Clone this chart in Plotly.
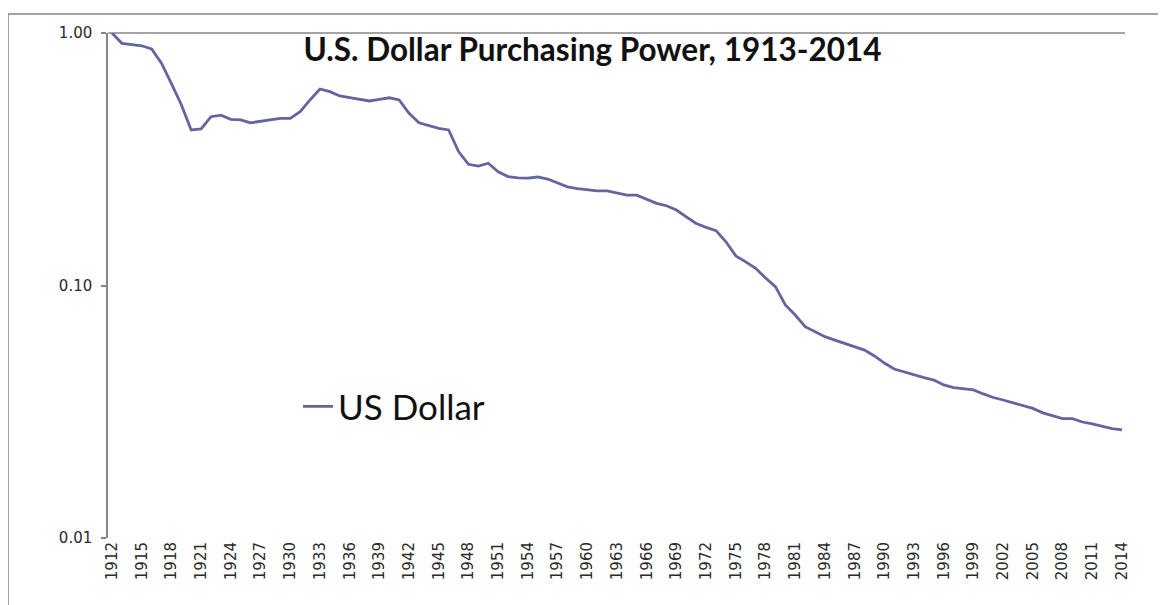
import plotly.graph_objects as go

# ---- data ----
years = list(range(1912, 2015))
us_dollar = [
    1.000, 0.910, 0.900, 0.890, 0.864, 0.759, 0.630, 0.520, 0.413, 0.417,
    0.466, 0.473, 0.455, 0.453, 0.441, 0.446, 0.452, 0.459, 0.459, 0.488,
    0.543, 0.600, 0.586, 0.563, 0.555, 0.548, 0.538, 0.546, 0.554, 0.543,
    0.481, 0.441, 0.430, 0.419, 0.413, 0.339, 0.302, 0.297, 0.305, 0.282,
    0.270, 0.267, 0.266, 0.269, 0.264, 0.255, 0.246, 0.242, 0.240, 0.237,
    0.237, 0.233, 0.228, 0.228, 0.219, 0.2115, 0.207, 0.199, 0.187, 0.176,
    0.170, 0.165, 0.149, 0.131, 0.124, 0.117, 0.107, 0.099, 0.0837, 0.0764,
    0.0687, 0.0654, 0.0627, 0.0608, 0.0590, 0.0576, 0.0555, 0.0526, 0.0493, 0.0467,
    0.0454, 0.0442, 0.0432, 0.0422, 0.0404, 0.0394, 0.0389, 0.0386, 0.0372, 0.0360,
    0.0352, 0.0343, 0.0336, 0.0326, 0.0313, 0.0304, 0.0297, 0.0297, 0.0288, 0.0283,
    0.0277, 0.0271, 0.0268,
]
tick_years = [
    1912, 1915, 1918, 1921, 1924, 1927, 1930, 1933, 1936, 1939, 1942, 1945,
    1948, 1951, 1954, 1957, 1960, 1963, 1966, 1969, 1972, 1975, 1978, 1981,
    1984, 1987, 1990, 1993, 1996, 1999, 2002, 2005, 2008, 2011, 2014,
]
tick_labels = [str(y) for y in tick_years]
y_ticks = [0.01, 0.1, 1.0]

title_text = "U.S. Dollar Purchasing Power, 1913-2014"
series_name = "US Dollar"

LINE_COLOR = "#64649E"
AXIS_COLOR = "#868686"
TEXT_COLOR = "#2a2a2a"

# page body has an 8px margin, so the figure is laid out relative to (8, 8)
W, H = 1158, 597
ML, MR, MT, MB = 100, 41, 25, 67
PW = W - ML - MR  # 1017
PH = H - MT - MB  # 505

fig = go.Figure()
fig.add_trace(go.Scatter(
    x=years, y=us_dollar, mode="lines", name=series_name,
    line=dict(color=LINE_COLOR, width=2.8),
    showlegend=True,
))

fig.update_layout(
    width=W, height=H,
    margin=dict(l=ML, r=MR, t=MT, b=MB, autoexpand=False),
    paper_bgcolor="white", plot_bgcolor="white",
    title=dict(
        text="<b>" + title_text + "</b>",
        font=dict(family="Lato", size=31.5, color="#111111"),
        xref="paper", x=(592.5 - 108) / PW, xanchor="center",
        yref="container", y=1 - 42 / H, yanchor="middle",
    ),
    showlegend=True,
    legend=dict(
        x=0.1868, y=0.26, xanchor="left", yanchor="middle",
        font=dict(family="Lato", size=35, color="#111111"),
        bgcolor="rgba(0,0,0,0)", borderwidth=0,
        itemwidth=30,
    ),
    xaxis=dict(
        range=[1911.596, 2014.303],
        tickmode="array", tickvals=tick_years, ticktext=tick_labels,
        tickangle=-90, ticks="", showline=False, showgrid=False, zeroline=False,
        tickfont=dict(family="DejaVu Sans", size=15, color=TEXT_COLOR),
    ),
    yaxis=dict(
        type="log", range=[-2, 0],
        tickmode="array", tickvals=y_ticks, tickformat=".2f",
        showline=True, linecolor=AXIS_COLOR, linewidth=1.5,
        ticks="outside", ticklen=5, tickcolor=AXIS_COLOR, tickwidth=1.5,
        ticklabelstandoff=6,
        showgrid=False, zeroline=False,
        tickfont=dict(family="DejaVu Sans", size=15, color=TEXT_COLOR),
    ),
    shapes=[
        # horizontal axis crossing at 1.00
        dict(type="line", xref="paper", yref="paper", x0=0, x1=1, y0=1, y1=1,
             line=dict(color=AXIS_COLOR, width=1.5), layer="below"),
        # chart area border
        dict(type="rect", xref="paper", yref="paper",
             x0=-100 / PW, x1=2.0, y0=-1.0, y1=(538 - 14) / PH,
             line=dict(color=AXIS_COLOR, width=1.5), fillcolor="rgba(0,0,0,0)",
             layer="below"),
    ],
)

fig.write_html("out.html")
